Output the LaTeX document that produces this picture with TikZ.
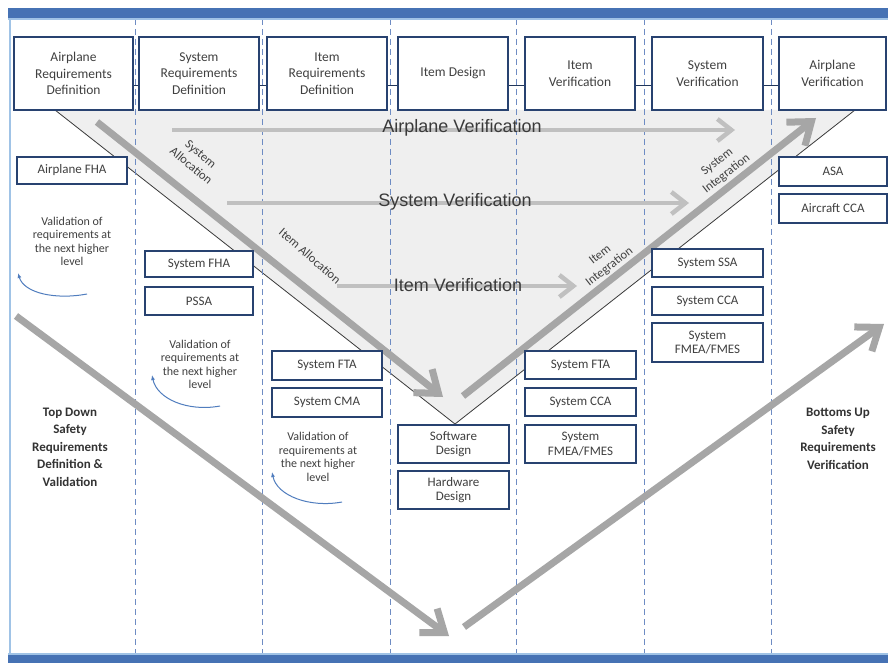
\documentclass[tikz,border=0pt]{standalone}
\usepackage{fontspec}
\setmainfont{Carlito}
\newfontfamily\arialf{Liberation Sans}
\usetikzlibrary{arrows.meta}
\definecolor{boxblue}{RGB}{40,66,112}
\definecolor{txt}{RGB}{64,64,64}
\definecolor{arrgray}{RGB}{166,166,166}
\definecolor{harrgray}{RGB}{192,192,192}
\definecolor{trifill}{RGB}{239,239,239}
\definecolor{dashblue}{RGB}{110,140,195}
\definecolor{barblue}{RGB}{70,114,180}
\definecolor{framelight}{RGB}{160,195,230}
\definecolor{arcblue}{RGB}{80,125,190}
\begin{document}
\begin{tikzpicture}[x=1pt,y=-1pt,
  box/.style={draw=boxblue,line width=2.2pt,fill=white,align=center,text=txt,inner sep=1pt,font=\fontsize{13.5}{16.5}\selectfont},
  sbox/.style={box,font=\fontsize{13}{14.5}\selectfont},
  conn/.style={draw=boxblue!80!black,line width=0.9pt},
  thk/.style={draw=arrgray,line width=7pt,-{Straight Barb[length=20pt,width=30pt]}},
  hthk/.style={draw=harrgray,line width=4.5pt,-{Straight Barb[length=14pt,width=22pt]}},
  biglbl/.style={font=\arialf\fontsize{18}{20}\selectfont,text=txt!90!black},
  diaglbl/.style={align=center,text=txt,font=\fontsize{12.5}{15}\selectfont,inner sep=0pt},
  vallbl/.style={align=center,text=txt,font=\fontsize{12}{13.5}\selectfont,inner sep=0pt},
  boldlbl/.style={align=center,text=txt!80!black,font=\bfseries\fontsize{13}{17.5}\selectfont,inner sep=0pt},
  vline/.style={draw=dashblue,line width=0.8pt,dash pattern=on 6pt off 4pt},
  arcarr/.style={draw=arcblue,line width=1pt,-{Latex[length=5pt,width=4pt]}},
  tri/.style={draw=txt!90!black,line width=0.8pt}
]
\useasboundingbox (0,0) rectangle (888,663);
\fill[white] (0,0) rectangle (888,663);

% V triangle
\coordinate (tl) at (55,110);
\coordinate (tv) at (455,424);
\coordinate (tr) at (855,110);
\fill[trifill] (tl) -- (tv) -- (tr) -- cycle;
\draw[tri] (tl) -- (tv) -- (tr);

% dashed column separators
\foreach \x in {135,262,390,516,644,771}
  \draw[vline] (\x,19) -- (\x,654);

% frame
\fill[barblue] (8,8) rectangle (888,18);
\draw[framelight,line width=1.5pt] (8,19) -- (888,19);
\draw[framelight,line width=2pt] (9.5,18) -- (9.5,655);
\draw[framelight,line width=1.5pt] (8,654) -- (888,654);
\fill[barblue] (8,655) rectangle (888,663);

% horizontal verification arrows
\coordinate (avs) at (172,130); \coordinate (ave) at (735,130);
\coordinate (svs) at (227,203); \coordinate (sve) at (689,203);
\coordinate (ivs) at (337,286); \coordinate (ive) at (577,286);
\draw[hthk] (avs) -- (ave);
\draw[hthk] (svs) -- (sve);
\draw[hthk] (ivs) -- (ive);
\node[biglbl] (avl) at (462,128) {Airplane Verification};
\node[biglbl] (svl) at (455,202) {System Verification};
\node[biglbl] (ivl) at (458,285) {Item Verification};

% diagonal arrows in V
\coordinate (das) at (97,122); \coordinate (dae) at (443,397);
\coordinate (uas) at (463,396); \coordinate (uae) at (816,118);
\draw[thk] (das) -- (dae);
\draw[thk] (uas) -- (uae);

% bottom big V arrows
\coordinate (bls) at (16,316); \coordinate (ble) at (449,636);
\coordinate (brs) at (464,627); \coordinate (bre) at (884,324);
\draw[thk] (bls) -- (ble);
\draw[thk] (brs) -- (bre);

% diagonal labels
\node[diaglbl,rotate=-40] (sal) at (196,160) {System\\Allocation};
\node[diaglbl,rotate=-41] (ial) at (310,256) {Item Allocation};
\node[diaglbl,rotate=38] (sil) at (722,168) {System\\Integration};
\node[diaglbl,rotate=38] (iil) at (605,261) {Item\\Integration};

% top process boxes
\node[box,minimum width=119pt,minimum height=73pt] (b1) at (73.5,73.5) {Airplane\\Requirements\\Definition};
\node[box,minimum width=120pt,minimum height=73pt] (b2) at (199,73.5) {System\\Requirements\\Definition};
\node[box,minimum width=120pt,minimum height=73pt] (b3) at (327,73.5) {Item\\Requirements\\Definition};
\node[box,minimum width=110pt,minimum height=73pt] (b4) at (453,73.5) {Item Design};
\node[box,minimum width=110pt,minimum height=73pt] (b5) at (580,73.5) {Item\\Verification};
\node[box,minimum width=111pt,minimum height=73pt] (b6) at (707.5,73.5) {System\\Verification};
\node[box,minimum width=107pt,minimum height=73pt] (b7) at (832.5,73.5) {Airplane\\Verification};
\foreach \a/\b in {b1/b2,b2/b3,b3/b4,b4/b5,b5/b6,b6/b7}
  \draw[conn] ([yshift=-11.5pt]\a.east) -- ([yshift=-11.5pt]\b.west);

% column 1
\node[sbox,minimum width=110pt,minimum height=27pt] (afha) at (72,170.5) {Airplane FHA};
\node[vallbl] (v1) at (72,241.5) {Validation of\\requirements at\\the next higher\\level};
\coordinate (a1s) at (87,294); \coordinate (a1e) at (18,273);
\draw[arcarr] (a1s) .. controls (55,300) and (24,293) .. (a1e);
\node[boldlbl] (tdl) at (70,447) {Top Down\\Safety\\Requirements\\Definition \&\\Validation};

% column 2
\node[sbox,minimum width=108pt,minimum height=26pt] (sfha) at (199,264) {System FHA};
\node[sbox,minimum width=108pt,minimum height=28pt] (pssa) at (199,301) {PSSA};
\node[vallbl] (v2) at (200,364.5) {Validation of\\requirements at\\the next higher\\level};
\coordinate (a2s) at (220,406); \coordinate (a2e) at (152,375);
\draw[arcarr] (a2s) .. controls (188,412) and (157,399) .. (a2e);

% column 3
\node[sbox,minimum width=110pt,minimum height=29pt] (sfta) at (327,365.5) {System FTA};
\node[sbox,minimum width=110pt,minimum height=29pt] (scma) at (327,402.5) {System CMA};
\node[vallbl] (v3) at (318,457) {Validation of\\requirements at\\the next higher\\level};
\coordinate (a3s) at (342,502); \coordinate (a3e) at (272,472);
\draw[arcarr] (a3s) .. controls (310,508) and (277,496) .. (a3e);

% column 4
\node[sbox,minimum width=111pt,minimum height=38pt] (swd) at (453.5,444) {Software\\Design};
\node[sbox,minimum width=111pt,minimum height=38pt] (hwd) at (453.5,490) {Hardware\\Design};

% column 5
\node[sbox,minimum width=111pt,minimum height=28pt] (sfta2) at (580.5,365) {System FTA};
\node[sbox,minimum width=111pt,minimum height=28pt] (scca2) at (580.5,402) {System CCA};
\node[sbox,minimum width=111pt,minimum height=38pt] (sfm2) at (580.5,444) {System\\FMEA/FMES};

% column 6
\node[sbox,minimum width=111pt,minimum height=28pt] (sssa) at (707.5,263) {System SSA};
\node[sbox,minimum width=111pt,minimum height=28pt] (scca3) at (707.5,301) {System CCA};
\node[sbox,minimum width=111pt,minimum height=39pt] (sfm3) at (707.5,342.5) {System\\FMEA/FMES};

% column 7
\node[sbox,minimum width=108pt,minimum height=29pt] (asa) at (833,171.5) {ASA};
\node[sbox,minimum width=108pt,minimum height=29pt] (acca) at (833,208.5) {Aircraft CCA};
\node[boldlbl] (bul) at (838,439) {Bottoms Up\\Safety\\Requirements\\Verification};
\end{tikzpicture}
\end{document}
